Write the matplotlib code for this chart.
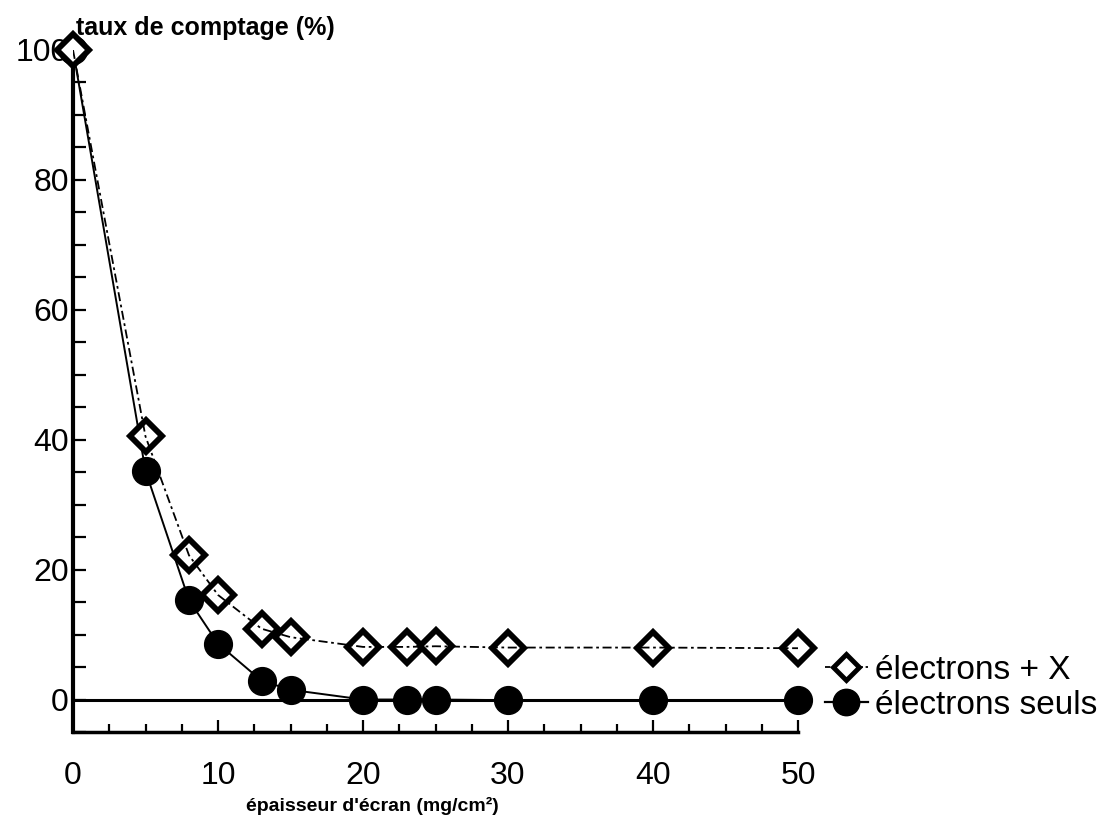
import matplotlib
matplotlib.use("Agg")
import matplotlib.pyplot as plt
from matplotlib.ticker import MultipleLocator
from matplotlib.lines import Line2D

plt.rcParams['font.family'] = ['Liberation Sans', 'DejaVu Sans']

# épaisseur d'écran (mg/cm²)
epaisseur = [0, 5, 8, 10, 13, 15, 20, 23, 25, 30, 40, 50]
# taux de comptage (%)
electrons_x = [100, 40.5, 22.2, 16.1, 10.9, 9.6, 8.1, 8.1, 8.2, 8.0, 8.0, 7.9]
electrons_seuls = [100, 35.2, 15.3, 8.6, 2.9, 1.5, 0, 0, 0, -0.1, -0.1, -0.1]

x_ticks = [0, 10, 20, 30, 40, 50]
y_ticks = [0, 20, 40, 60, 80, 100]

fig = plt.figure(figsize=(11.12, 8.19), dpi=100)
ax = fig.add_axes([73/1112, 1 - 732/819, (798-73)/1112, (732-50)/819])

ax.axhline(0, color='black', lw=2.2, zorder=1)

# lignes
ax.plot(epaisseur, electrons_seuls, color='black', lw=1.4, zorder=2)
ax.plot(epaisseur, electrons_x, color='black', lw=1.3, dashes=[5, 2, 1.5, 2], zorder=4)
# marqueurs
ax.plot(epaisseur, electrons_seuls, 'o', color='black', ms=20, zorder=3, clip_on=False)
ax.plot(epaisseur, electrons_x, 'D', mfc='white', mec='black', ms=16, mew=4.2,
        zorder=3, clip_on=False)

ax.set_xlim(0, 50)
ax.set_ylim(-5, 100)

for s in ['top', 'right']:
    ax.spines[s].set_visible(False)
ax.spines['left'].set_linewidth(3)
ax.spines['bottom'].set_linewidth(2.5)

ax.set_xticks(x_ticks)
ax.set_yticks(y_ticks)
ax.xaxis.set_minor_locator(MultipleLocator(2.5))
ax.yaxis.set_minor_locator(MultipleLocator(5))
ax.tick_params(axis='x', which='major', direction='in', length=9, width=1.6,
               labelsize=23, pad=21)
ax.tick_params(axis='x', which='minor', direction='in', length=6, width=1.6)
ax.tick_params(axis='y', which='both', direction='in', length=9, width=1.6)
ax.tick_params(axis='y', which='major', labelsize=23, pad=3)

fig.text(76/1112, 1 - 28/819, 'taux de comptage (%)', fontsize=18, fontweight='bold',
         ha='left', va='center')
fig.text(372/1112, 1 - 806/819, "épaisseur d'écran (mg/cm²)", fontsize=14,
         fontweight='bold', ha='center', va='center')

h1 = Line2D([], [], color='black', lw=1.3, dashes=[3, 1.5], marker='D', mfc='white',
            mec='black', ms=13, mew=3.5)
h2 = Line2D([], [], color='black', lw=1.6, marker='o', ms=19)
fig.legend([h1, h2], ['électrons + X', 'électrons seuls'], loc='center left',
           bbox_to_anchor=(808/1112, 1 - 688/819), frameon=False, fontsize=24,
           handlelength=1.3, handletextpad=0.2, labelspacing=0.12, borderpad=0)

fig.savefig('out.png', dpi=100)
